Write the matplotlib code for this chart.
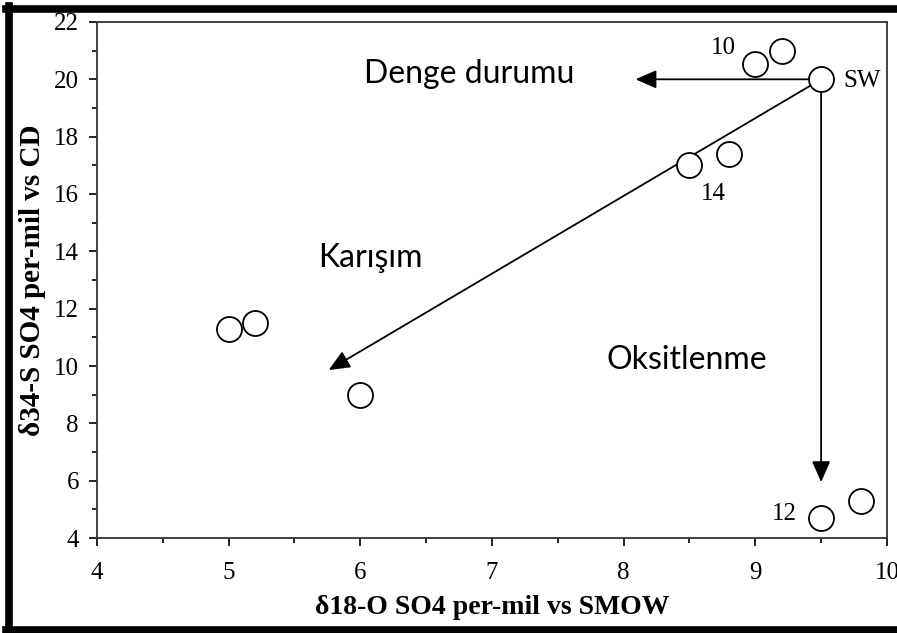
import matplotlib.pyplot as plt
from matplotlib.lines import Line2D
from matplotlib.ticker import MultipleLocator

# measured samples (d18O, d34S)
d18o = [5.0, 5.2, 6.0, 8.5, 8.8, 9.0, 9.2, 9.5, 9.5, 9.8]
d34s = [11.3, 11.5, 9.0, 17.0, 17.4, 20.55, 21.0, 20.0, 4.7, 5.3]

# labelled samples
sample_labels = ["10", "14", "12", "SW"]
label_x = [8.76, 8.68, 9.22, 9.67]
label_y = [21.1, 16.0, 4.85, 19.95]

# process arrows start from seawater (SW)
sw = (9.5, 20.0)
arrow_ends = [(8.09, 20.0), (9.5, 5.95), (5.76, 9.86)]

# process names (baseline positions)
proc_names = ["Denge durumu", "Karışım", "Oksitlenme"]
proc_x = [6.83, 6.08, 8.48]
proc_y = [19.87, 13.45, 9.9]

serif = "Liberation Serif"

fig = plt.figure(figsize=(8.97, 6.33), dpi=100)
ax = fig.add_axes([0.1081, 0.150, 0.8807, 0.8153])

ax.plot(d18o, d34s, linestyle="none", marker="o", markersize=18,
        markerfacecolor="white", markeredgecolor="black", markeredgewidth=1.3, zorder=3)

for lab, x, y in zip(sample_labels, label_x, label_y):
    ha = "left" if lab == "SW" else "center"
    ax.text(x, y, lab, ha=ha, va="center", fontsize=18, family=serif)

for end in arrow_ends:
    ax.annotate("", xy=end, xytext=sw,
                arrowprops=dict(arrowstyle="-|>,head_length=0.8,head_width=0.35",
                                mutation_scale=16, color="black", lw=1.3,
                                shrinkA=9, shrinkB=0), zorder=2)

for name, x, y in zip(proc_names, proc_x, proc_y):
    ax.text(x, y, name, ha="center", va="baseline", fontsize=23, family="Lato")

ax.set_xlim(4, 10)
ax.set_ylim(4, 22)
ax.xaxis.set_major_locator(MultipleLocator(1))
ax.xaxis.set_minor_locator(MultipleLocator(0.5))
ax.yaxis.set_major_locator(MultipleLocator(2))
ax.yaxis.set_minor_locator(MultipleLocator(1))
ax.tick_params(which="major", direction="out", length=6, width=1.2, labelsize=18)
ax.tick_params(axis="x", which="major", pad=11)
ax.tick_params(axis="y", which="major", pad=7)
ax.tick_params(which="minor", direction="out", length=3.5, width=1.2)
for lab in ax.get_xticklabels() + ax.get_yticklabels():
    lab.set_family(serif)
for s in ax.spines.values():
    s.set_linewidth(1.3)
    s.set_color("#333333")

ax.set_xlabel("δ18-O SO4 per-mil vs SMOW", fontsize=20, fontweight="bold", family=serif, labelpad=8)
ax.set_ylabel("δ34-S SO4 per-mil vs CD", fontsize=21, fontweight="bold", family=serif, labelpad=6)

# black frame around the picture (right side cropped in original)
fig.add_artist(Line2D([0.0067, 1.0], [0.9865, 0.9865], color="black", lw=5.5, transform=fig.transFigure))
fig.add_artist(Line2D([0.0095, 0.0095], [0.0, 0.99], color="black", lw=5.5, transform=fig.transFigure))
fig.add_artist(Line2D([0.0067, 1.0], [0.004, 0.004], color="black", lw=5.5, transform=fig.transFigure))

fig.savefig("out.png", dpi=100)
